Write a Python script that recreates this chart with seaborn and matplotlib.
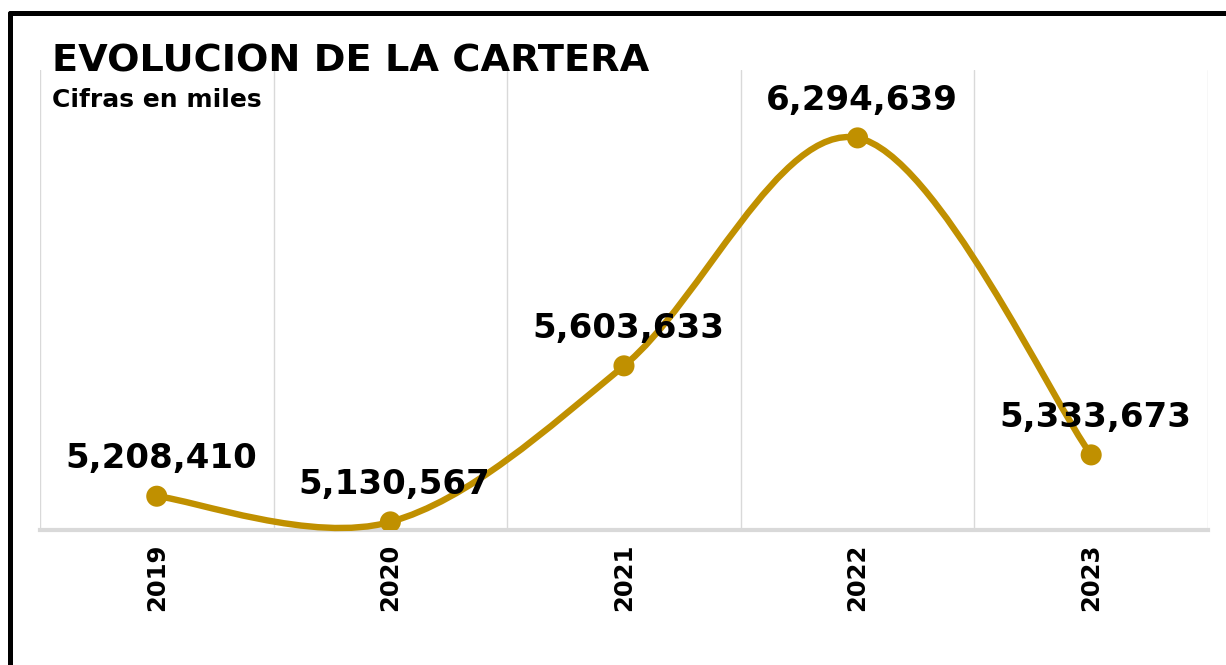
"""Evolucion de la cartera - smoothed line chart."""

import seaborn as sns
import matplotlib.pyplot as plt
from matplotlib.path import Path
from matplotlib.patches import PathPatch
from matplotlib.lines import Line2D

years = ['2019', '2020', '2021', '2022', '2023']
cartera = [5208410, 5130567, 5603633, 6294639, 5333673]

GOLD = '#c09000'
GRID = '#d9d9d9'

sns.set_theme(style='white')
plt.rcParams['font.family'] = ['DejaVu Sans']
plt.rcParams['text.color'] = 'black'
plt.rcParams['xtick.color'] = 'black'

fig = plt.figure(figsize=(12.26, 6.65), dpi=100)
ax = fig.add_axes([0.0326, 0.203, 0.9527, 0.692])

# Markers through seaborn
pos = list(range(len(years)))
sns.scatterplot(x=pos, y=cartera, ax=ax, color=GOLD, s=230, edgecolor='none', zorder=4)

# Smoothed line (Excel-style bezier segments using neighbouring points)
pts = list(zip(pos, cartera))
verts = [pts[0]]
codes = [Path.MOVETO]
for i in range(len(pts) - 1):
    p0 = pts[max(i - 1, 0)]
    p1 = pts[i]
    p2 = pts[i + 1]
    p3 = pts[min(i + 2, len(pts) - 1)]
    c1 = (p1[0] + (p2[0] - p0[0]) / 6, p1[1] + (p2[1] - p0[1]) / 6)
    c2 = (p2[0] - (p3[0] - p1[0]) / 6, p2[1] - (p3[1] - p1[1]) / 6)
    verts += [c1, c2, p2]
    codes += [Path.CURVE4] * 3
ax.add_patch(PathPatch(Path(verts, codes), fill=False, edgecolor=GOLD,
                       lw=4.6, capstyle='round', zorder=3, clip_on=False))

# Data labels
for x, v in zip(pos, cartera):
    ax.annotate(f'{v:,}', (x, v), xytext=(3, 27), textcoords='offset points',
                ha='center', va='center', fontsize=24.5, fontweight='bold',
                color='black', zorder=5)

ax.set_xlim(-0.5, 4.5)
ax.set_ylim(5106000, 6501000)

# Axes styling
for side in ['top', 'right', 'left']:
    ax.spines[side].set_visible(False)
ax.spines['bottom'].set_color(GRID)
ax.spines['bottom'].set_linewidth(3)
ax.set_yticks([])
ax.set_xticks(pos)
ax.set_xticklabels(years, rotation=90, fontsize=17.5, fontweight='bold', color='black')
ax.tick_params(axis='x', which='major', length=0, pad=10)
ax.set_xticks([p - 0.5 for p in pos] + [4.5], minor=True)
ax.tick_params(axis='x', which='minor', direction='in', length=8, width=3, color=GRID)
ax.grid(axis='x', which='minor', color=GRID, lw=1)
ax.grid(axis='x', which='major', visible=False)

# Titles
fig.text(0.0424, 0.934, 'EVOLUCION DE LA CARTERA', fontsize=27.5, fontweight='bold',
         ha='left', va='top', color='black')
fig.text(0.0424, 0.868, 'Cifras en miles', fontsize=18, fontweight='bold',
         ha='left', va='top', color='black')

# Cropped black frame (top and left edges)
fig.add_artist(Line2D([0.0082, 1.0], [0.9812, 0.9812], transform=fig.transFigure,
                      color='black', lw=3.6))
fig.add_artist(Line2D([0.0082, 0.0082], [0.9812, 0.0], transform=fig.transFigure,
                      color='black', lw=3.6))

fig.savefig('out.png', dpi=100)
